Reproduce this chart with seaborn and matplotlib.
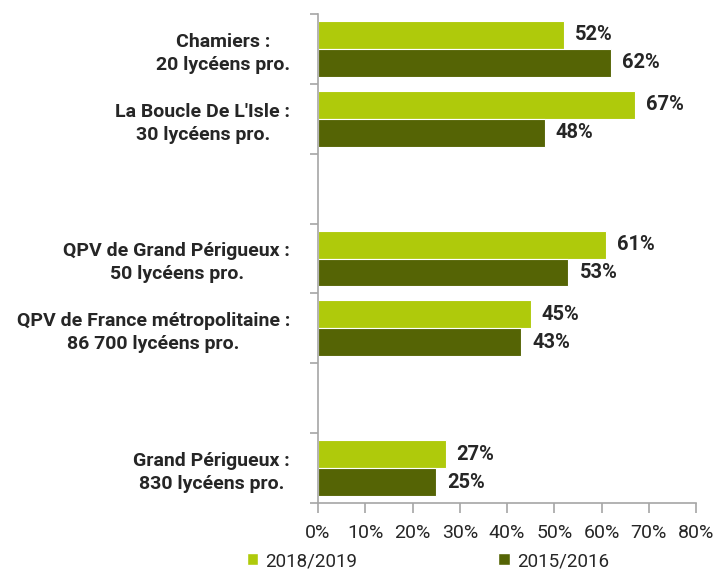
import matplotlib
matplotlib.use("Agg")
import matplotlib.pyplot as plt
import seaborn as sns
import pandas as pd
import matplotlib.ticker as ticker
from matplotlib.patches import Patch

sns.set_theme(style="white")
plt.rcParams["font.family"] = ["Roboto", "DejaVu Sans"]

# data
categories = [
    "Chamiers :\n20 lycéens pro.",
    "La Boucle De L'Isle :\n30 lycéens pro.",
    " ",
    "QPV de Grand Périgueux :\n50 lycéens pro.",
    "QPV de France métropolitaine :\n86 700 lycéens pro.",
    "  ",
    "Grand Périgueux :\n830 lycéens pro.",
]
periods = ["2018/2019", "2015/2016"]
vals_2018 = [52, 67, None, 61, 45, None, 27]
vals_2015 = [62, 48, None, 53, 43, None, 25]
xticks = [0, 10, 20, 30, 40, 50, 60, 70, 80]

COLORS = {"2018/2019": "#AFCA0B", "2015/2016": "#556405"}
AXIS_GREY = "#A6A6A6"
TEXT = "#262626"

rows = []
for cat, a, b in zip(categories, vals_2018, vals_2015):
    if a is not None:
        rows.append((cat, periods[0], a))
        rows.append((cat, periods[1], b))
df = pd.DataFrame(rows, columns=["category", "period", "value"])

fig = plt.figure(figsize=(7.17, 5.72), dpi=100)
ax = fig.add_axes([318 / 717, 1 - 503 / 572, (696 - 318) / 717, (503 - 14) / 572])

sns.barplot(data=df, y="category", x="value", hue="period", order=categories,
            hue_order=periods, palette=COLORS, saturation=1, orient="h", width=0.8,
            edgecolor="white", linewidth=0.8, legend=False, ax=ax)

for cont in ax.containers:
    ax.bar_label(cont, labels=[f"{v:.0f}%" for v in cont.datavalues], padding=8,
                 fontsize=14.5, fontweight="bold", color=TEXT)

ax.set_xlim(0, 80)
ax.set_ylim(len(categories) - 0.5, -0.5)
ax.set_xticks(xticks)
ax.xaxis.set_major_formatter(ticker.FuncFormatter(lambda v, p: f"{v:.0f}%"))
ax.set_xlabel("")
ax.set_ylabel("")

# category labels centred on slots, tick marks on the boundaries
ax.set_yticks(range(len(categories)))
ax.set_yticklabels(categories, multialignment="center", linespacing=1.35,
                   fontsize=14, fontweight="bold", color=TEXT)
ax.set_yticks([i - 0.5 for i in range(len(categories) + 1)], minor=True)
ax.tick_params(axis="y", which="major", length=0, pad=20)
ax.tick_params(axis="y", which="minor", length=6, width=1.2, color=AXIS_GREY, left=True)
ax.tick_params(axis="x", which="major", length=7, width=1.2, color=AXIS_GREY,
               bottom=True, labelsize=14, labelcolor=TEXT, pad=8)

for side in ["top", "right"]:
    ax.spines[side].set_visible(False)
for side in ["left", "bottom"]:
    ax.spines[side].set_color(AXIS_GREY)
    ax.spines[side].set_linewidth(1.2)

handles = [Patch(facecolor=COLORS[p], label=p) for p in periods]
leg = fig.legend(handles=handles, loc="center", bbox_to_anchor=(428 / 717, 11 / 572),
                 ncol=2, frameon=False, handlelength=0.6, handleheight=0.6,
                 handletextpad=0.4, columnspacing=7.5, prop={"size": 13.5})
for t in leg.get_texts():
    t.set_color(TEXT)

fig.savefig("out.png", dpi=100)
